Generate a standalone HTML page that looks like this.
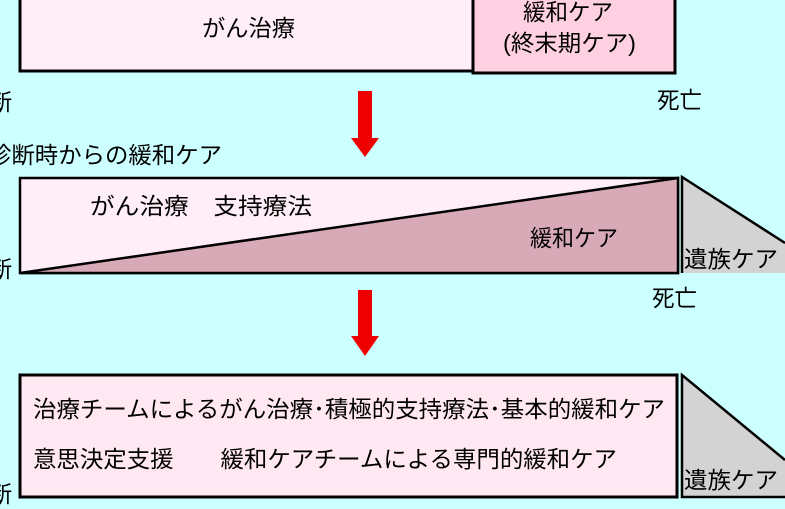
<!DOCTYPE html>
<html><head><meta charset="utf-8"><style>
html,body{margin:0;padding:0;background:#ccffff;width:785px;height:509px;overflow:hidden}
svg{display:block}
text{font-family:"Liberation Sans","Noto Sans CJK JP",sans-serif;font-size:23px;fill:#000}
</style></head><body>
<svg width="785" height="509" viewBox="0 0 785 509">
<rect x="0" y="0" width="785" height="509" fill="#ccffff"/>
<!-- Box 1 -->
<rect x="20" y="-10" width="453" height="81" fill="#ffeef7" stroke="#000" stroke-width="3"/>
<rect x="473" y="-10" width="202" height="83" fill="#ffd0e2" stroke="#000" stroke-width="3"/>
<text x="202" y="36" textLength="93" lengthAdjust="spacingAndGlyphs">がん治療</text>
<text x="523" y="20" textLength="90" lengthAdjust="spacingAndGlyphs">緩和ケア</text>
<text x="503" y="51" textLength="133" lengthAdjust="spacingAndGlyphs">(終末期ケア)</text>
<text x="-11" y="110">断</text>
<!-- Arrow 1 -->
<rect x="358" y="91" width="14" height="48" fill="#ee0000"/>
<polygon points="351,138 379,138 365,157" fill="#ee0000"/>
<text x="657" y="108" textLength="45" lengthAdjust="spacingAndGlyphs">死亡</text>
<text x="-12" y="163" textLength="234" lengthAdjust="spacingAndGlyphs">診断時からの緩和ケア</text>
<!-- Box 2 -->
<rect x="20" y="178" width="658" height="95" fill="#ffeef7" stroke="#000" stroke-width="2.5"/>
<polygon points="20,273 678,178 678,273" fill="#d8aab8" stroke="#000" stroke-width="2.5"/>
<polygon points="682,177 785,243 785,273 682,273" fill="#d3d3d3"/>
<polyline points="785,243 682,177 682,273" fill="none" stroke="#000" stroke-width="2.5"/>
<text x="90" y="214" textLength="222" lengthAdjust="spacingAndGlyphs">がん治療　支持療法</text>
<text x="530" y="246" textLength="88" lengthAdjust="spacingAndGlyphs">緩和ケア</text>
<text x="684" y="267" textLength="94" lengthAdjust="spacingAndGlyphs">遺族ケア</text>
<text x="-11" y="277">断</text>
<!-- Arrow 2 -->
<text x="652" y="306" textLength="45" lengthAdjust="spacingAndGlyphs">死亡</text>
<rect x="358" y="290" width="14" height="47" fill="#ee0000"/>
<polygon points="351,336 379,336 365,356" fill="#ee0000"/>
<!-- Box 3 -->
<rect x="20" y="375" width="657" height="122" fill="#ffe8f2" stroke="#000" stroke-width="3"/>
<polygon points="682,375 785,460 785,497 682,497" fill="#d3d3d3"/>
<polyline points="785,460 682,375 682,497 785,497" fill="none" stroke="#000" stroke-width="2.5"/>
<text x="33" y="417" textLength="632" lengthAdjust="spacingAndGlyphs">治療チームによるがん治療･積極的支持療法･基本的緩和ケア</text>
<text x="33" y="467" textLength="584" lengthAdjust="spacingAndGlyphs">意思決定支援　　緩和ケアチームによる専門的緩和ケア</text>
<text x="684" y="488" textLength="94" lengthAdjust="spacingAndGlyphs">遺族ケア</text>
<text x="-11" y="502">断</text>
</svg>
</body></html>
